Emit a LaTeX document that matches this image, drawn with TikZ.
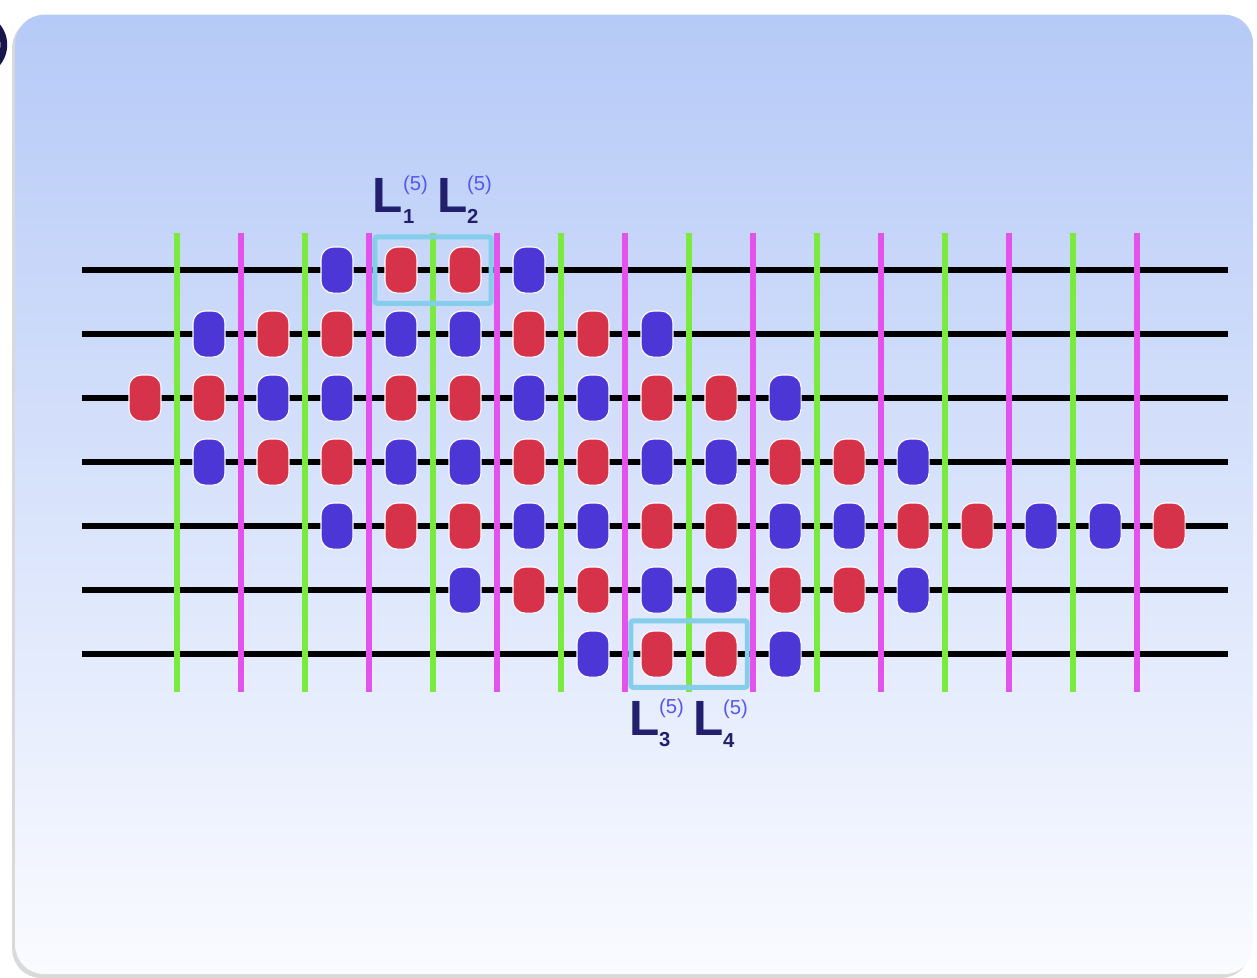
\documentclass[tikz,border=0pt]{standalone}
\usepackage{fontspec}
\setmainfont{Liberation Sans}
\usetikzlibrary{fit,shadows}
\definecolor{bgtop}{RGB}{182,202,247}
\definecolor{bgmid}{RGB}{222,230,250}
\definecolor{bgbot}{RGB}{250,251,255}
\definecolor{rungA}{RGB}{122,234,62}
\definecolor{rungB}{RGB}{228,82,238}
\definecolor{bead0}{RGB}{214,50,74}
\definecolor{bead1}{RGB}{76,54,214}
\definecolor{pairbox}{RGB}{132,206,236}
\definecolor{labnavy}{RGB}{34,32,110}
\definecolor{supblue}{RGB}{86,86,240}
\tikzset{
	bead/.style={rectangle, rounded corners=0.19cm, minimum width=0.5cm, minimum height=0.72cm, inner sep=0, draw=white, line width=0.5pt},
	pair/.style={draw=pairbox, line width=2.2pt, rounded corners=1pt, inner sep=0.15cm},
	lab/.style={text=labnavy, inner sep=0, font=\fontsize{22}{24}\selectfont\bfseries}
}
\def\supfont{\fontsize{9}{10}\selectfont}
\newcommand\Lab[1]{$\hbox{L}^{\hbox{\supfont\mdseries\color{supblue}(5)}}_{\hbox{\supfont #1}}$}

\begin{document}
\begin{tikzpicture}
	%%%%% START %%%%%
	\useasboundingbox (0,0) rectangle (19.64,15.28);
	
	\path[rounded corners=0.45cm, top color=bgtop, middle color=bgmid, bottom color=bgbot, drop shadow={shadow xshift=-0.05cm, shadow yshift=-0.06cm, opacity=0.3}] (0.24,0.06) rectangle (19.58,15.05);
	\draw[line width=3pt, color=labnavy!70!black] (-0.39,14.58) ++(-55:0.45) arc (-55:55:0.45);
	
	%%%%% wires %%%%%
	\foreach \r in {0,...,6}
		\draw[line width=2.9pt] (1.28,11.06-\r) -- (19.19,11.06-\r);
	
	\foreach \x in {2.77,4.77,...,16.77}
		\draw[line width=2.6pt, color=rungA] (\x,4.47) -- (\x,11.64);
	\foreach \x in {3.77,5.77,...,17.77}
		\draw[line width=2.6pt, color=rungB] (\x,4.47) -- (\x,11.64);
	
	%%%%% beads %%%%%
	\foreach \r/\first/\last in {0/3/6, 1/1/8, 2/0/10, 3/1/12, 4/3/16, 5/5/12, 6/7/10}{
		\foreach \k in {\first,...,\last}{
			\pgfmathtruncatemacro\c{mod(\k+2*\r,4)>1}
			\node[bead, fill=bead\c] (d-\r-\k) at (2.266+\k,11.06-\r) {};
		}
	}
	
	\node[pair, fit=(d-0-4) (d-0-5)] (box1) {};
	\node[pair, fit=(d-6-8) (d-6-9)] (box2) {};
	
	\node[lab] (l1) at ([yshift=1.1cm]d-0-4) {\Lab{1}};
	\node[lab] (l2) at ([yshift=1.1cm]d-0-5) {\Lab{2}};
	\node[lab] (l3) at ([yshift=-1.08cm]d-6-8) {\Lab{3}};
	\node[lab] (l4) at ([yshift=-1.08cm]d-6-9) {\Lab{4}};
	
	%%%%% END %%%%%
\end{tikzpicture}
\end{document}
